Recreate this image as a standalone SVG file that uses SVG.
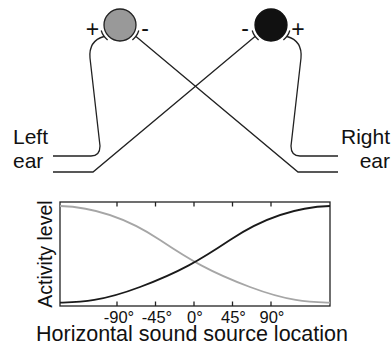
<svg xmlns="http://www.w3.org/2000/svg" xmlns:xlink="http://www.w3.org/1999/xlink" width="391" height="347" viewBox="0 0 391 347">
<style>
text{font-family:"Liberation Sans",Arial,sans-serif;fill:#111}
.wire{fill:none;stroke:#222;stroke-width:1.3}
.cup{fill:none;stroke:#222;stroke-width:1.3}
.lbl{font-size:21px}
.sign{font-size:23px;text-anchor:middle}
.tick{stroke:#222;stroke-width:1.3}
.tl{font-size:16.5px;text-anchor:middle}
</style>
<rect width="391" height="347" fill="#fff"/>
<g id="neuron-left">
<circle cx="120" cy="25" r="16" fill="#999" stroke="#222" stroke-width="1.3"/>
<path class="cup" d="M101.2,30.5 A19.5,19.5 0 0 0 107.6,40"/>
<path class="cup" d="M132.4,40 A19.5,19.5 0 0 0 138.8,30.5"/>
<text class="sign" x="92.5" y="37">+</text>
<text class="sign" x="145" y="36">-</text>
</g>
<g id="neuron-right">
<circle cx="271" cy="25" r="16" fill="#111" stroke="#111" stroke-width="1.3"/>
<path class="cup" d="M252.2,30.5 A19.5,19.5 0 0 0 258.6,40"/>
<path class="cup" d="M283.4,40 A19.5,19.5 0 0 0 289.8,30.5"/>
<text class="sign" x="245" y="36">-</text>
<text class="sign" x="298" y="37">+</text>
</g>
<g id="left-ear">
<text class="lbl" x="13" y="144">Left</text>
<text class="lbl" x="13" y="168">ear</text>
</g>
<g id="right-ear">
<text class="lbl" x="390" y="144" text-anchor="end">Right</text>
<text class="lbl" x="390" y="168" text-anchor="end">ear</text>
</g>
<g id="connectors">
<path class="wire" d="M53,156 L91,156 Q100,156 100,146 L90,58 C89,46 95,39 104,36.5"/>
<path class="wire" d="M53,172 L93,172 L255,36.5"/>
<path class="wire" d="M338,172 L298,172 L136,36.5"/>
<path class="wire" d="M338,156 L300,156 Q291,156 291,146 L301,58 C302,46 296,39 287,36.5"/>
</g>
<g id="plot">
<rect x="60" y="202" width="270" height="104" fill="none" stroke="#222" stroke-width="1.3"/>
<line class="tick" x1="117" y1="202" x2="117" y2="206.5"/>
<line class="tick" x1="155.5" y1="202" x2="155.5" y2="206.5"/>
<line class="tick" x1="194" y1="202" x2="194" y2="206.5"/>
<line class="tick" x1="232.5" y1="202" x2="232.5" y2="206.5"/>
<line class="tick" x1="271" y1="202" x2="271" y2="206.5"/>
<line class="tick" x1="117" y1="306" x2="117" y2="301.5"/>
<line class="tick" x1="155.5" y1="306" x2="155.5" y2="301.5"/>
<line class="tick" x1="194" y1="306" x2="194" y2="301.5"/>
<line class="tick" x1="232.5" y1="306" x2="232.5" y2="301.5"/>
<line class="tick" x1="271" y1="306" x2="271" y2="301.5"/>
<path d="M60,206 C95,207 130,220 160,240 S210,272 250,287 S310,302 330,302.7" fill="none" stroke="#a6a6a6" stroke-width="1.8"/>
<path d="M60,206 C95,207 130,220 160,240 S210,272 250,287 S310,302 330,302.7" transform="translate(390,0) scale(-1,1)" fill="none" stroke="#1a1a1a" stroke-width="1.8"/>
<text class="tl" x="119" y="323">-90°</text>
<text class="tl" x="157" y="323">-45°</text>
<text class="tl" x="195" y="323">0°</text>
<text class="tl" x="233.5" y="323">45°</text>
<text class="tl" x="272" y="323">90°</text>
<text x="52" y="254" font-size="19.5" text-anchor="middle" transform="rotate(-90 52 254)">Activity level</text>
<text x="192" y="341" font-size="21.5" text-anchor="middle">Horizontal sound source location</text>
</g>
</svg>
